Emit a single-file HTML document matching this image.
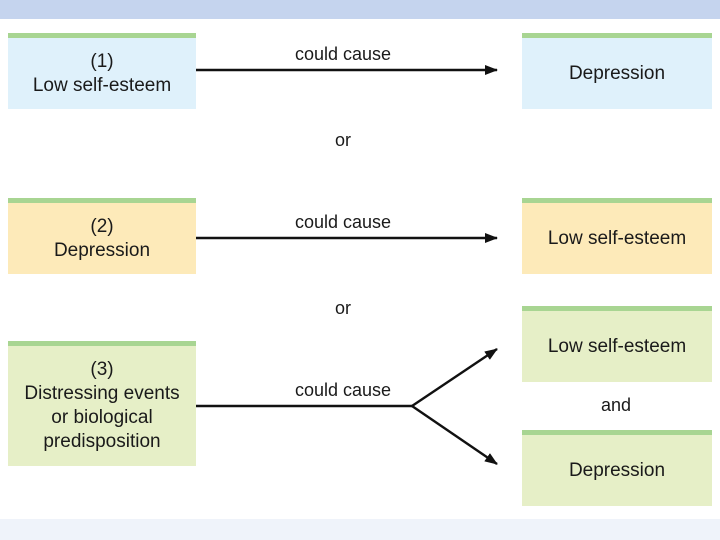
<!DOCTYPE html>
<html><head><style>
body{margin:0;width:720px;height:540px;background:#fff;position:relative;overflow:hidden;font-family:"Liberation Sans",sans-serif;color:#1a1a1a}
.b{position:absolute;border-top:5px solid #a8d592;display:flex;align-items:center;justify-content:center;text-align:center;font-size:19px;line-height:24px;box-sizing:border-box}
.t{position:absolute;font-size:18px;text-align:center;width:120px;margin-left:-60px}
</style></head><body>
<div style="position:absolute;left:0;top:0;width:720px;height:19px;background:#c5d4ee"></div>
<div style="position:absolute;left:0;top:519px;width:720px;height:21px;background:#eff3fa"></div>
<div class="b" style="left:8px;top:33px;width:188px;height:76px;background:#dff1fb">(1)<br>Low self-esteem</div>
<div class="b" style="left:522px;top:33px;width:190px;height:76px;background:#dff1fb">Depression</div>
<div class="b" style="left:8px;top:198px;width:188px;height:76px;background:#fdeab9">(2)<br>Depression</div>
<div class="b" style="left:522px;top:198px;width:190px;height:76px;background:#fdeab9">Low self-esteem</div>
<div class="b" style="left:8px;top:341px;width:188px;height:125px;background:#e6efc7">(3)<br>Distressing events<br>or biological<br>predisposition</div>
<div class="b" style="left:522px;top:306px;width:190px;height:76px;background:#e6efc7">Low self-esteem</div>
<div class="b" style="left:522px;top:430px;width:190px;height:76px;background:#e6efc7">Depression</div>
<div class="t" style="left:343px;top:44px">could cause</div>
<div class="t" style="left:343px;top:212px">could cause</div>
<div class="t" style="left:343px;top:380px">could cause</div>
<div class="t" style="left:343px;top:130px">or</div>
<div class="t" style="left:343px;top:298px">or</div>
<div class="t" style="left:616px;top:395px">and</div>
<svg width="720" height="540" style="position:absolute;left:0;top:0">
<defs><marker id="a" markerWidth="13" markerHeight="10" refX="12" refY="5" orient="auto" markerUnits="userSpaceOnUse"><path d="M0,0L13,5L0,10z" fill="#111"/></marker></defs>
<g stroke="#111" stroke-width="2.4" fill="none">
<line x1="196" y1="70" x2="497" y2="70" marker-end="url(#a)"/>
<line x1="196" y1="238" x2="497" y2="238" marker-end="url(#a)"/>
<polyline points="196,406 412,406"/>
<line x1="412" y1="406" x2="497" y2="349" marker-end="url(#a)"/>
<line x1="412" y1="406" x2="497" y2="464" marker-end="url(#a)"/>
</g></svg>
</body></html>
